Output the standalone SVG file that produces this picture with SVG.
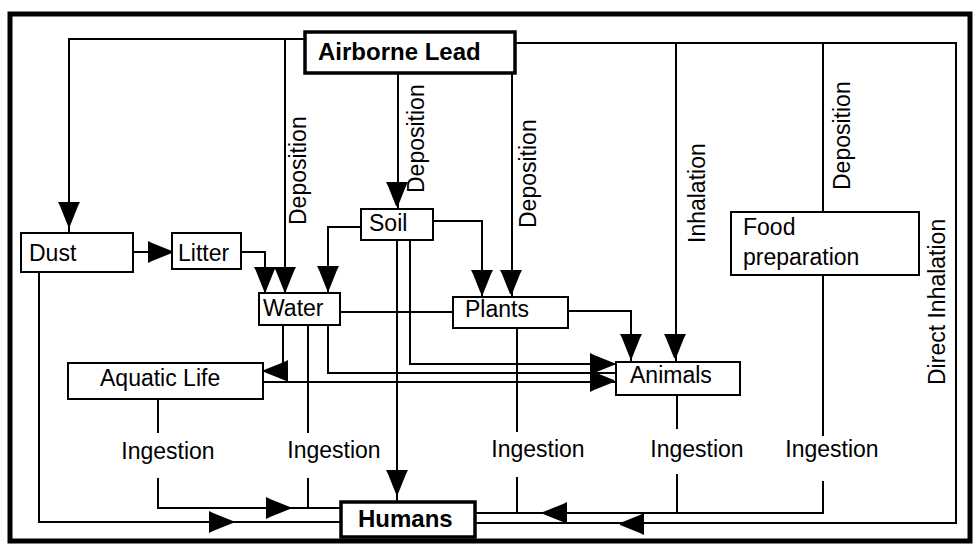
<svg xmlns="http://www.w3.org/2000/svg" width="975" height="545" viewBox="0 0 975 545">
<style>
.box{fill:#fff;stroke:#000;stroke-width:2}
.bbox{fill:#fff;stroke:#000;stroke-width:3.5}
.ln{fill:none;stroke:#000;stroke-width:2}
text{font-family:"Liberation Sans",Arial,sans-serif;font-size:23px;fill:#000}
.b{font-weight:bold;font-size:24px}
.m{text-anchor:middle}
</style>
<defs>
<path id="ah" d="M-11,-24 L11,-24 L9,-20 L1,0 L-1,0 L-9,-20 Z" fill="#000"/>
</defs>
<rect x="10" y="14" width="960" height="527" fill="none" stroke="#000" stroke-width="5"/>
<g id="connectors">
<!-- from Airborne Lead -->
<polyline class="ln" points="305,39 69,39 69,233"/>
<line class="ln" x1="285" y1="39" x2="285" y2="293"/>
<line class="ln" x1="398" y1="73" x2="398" y2="209"/>
<line class="ln" x1="512" y1="73" x2="512" y2="297"/>
<polyline class="ln" points="515,43 956,43 956,523 475,523"/>
<line class="ln" x1="676" y1="43" x2="676" y2="362"/>
<line class="ln" x1="823" y1="43" x2="823" y2="212"/>
<!-- Dust / Litter -->
<line class="ln" x1="133" y1="252" x2="172" y2="252"/>
<polyline class="ln" points="241,252 265,252 265,293"/>
<polyline class="ln" points="39,272 39,522 341,522"/>
<!-- Soil -->
<polyline class="ln" points="361,227 328,227 328,293"/>
<polyline class="ln" points="433,221 482,221 482,297"/>
<line class="ln" x1="397" y1="240" x2="397" y2="502"/>
<polyline class="ln" points="410,240 410,364 615,364"/>
<!-- Water -->
<line class="ln" x1="340" y1="312" x2="453" y2="312"/>
<polyline class="ln" points="283,325 283,371 263,371"/>
<polyline class="ln" points="328,325 328,373 615,373"/>
<line class="ln" x1="263" y1="382" x2="615" y2="382"/>
<line class="ln" x1="308" y1="325" x2="308" y2="433"/>
<!-- Plants -->
<polyline class="ln" points="568,311 631,311 631,362"/>
<line class="ln" x1="517" y1="328" x2="517" y2="432"/>
<!-- Ingestion paths -->
<line class="ln" x1="158" y1="399" x2="158" y2="433"/>
<polyline class="ln" points="158,478 158,508 341,508"/>
<line class="ln" x1="308" y1="478" x2="308" y2="508"/>
<line class="ln" x1="517" y1="477" x2="517" y2="513"/>
<line class="ln" x1="677" y1="395" x2="677" y2="429"/>
<line class="ln" x1="677" y1="474" x2="677" y2="513"/>
<line class="ln" x1="823" y1="275" x2="823" y2="436"/>
<polyline class="ln" points="823,481 823,513 475,513"/>
<!-- arrowheads -->
<use href="#ah" transform="translate(69,226)"/>
<use href="#ah" transform="translate(172,252) rotate(-90)"/>
<use href="#ah" transform="translate(265,291)"/>
<use href="#ah" transform="translate(285,291)"/>
<use href="#ah" transform="translate(328,290)"/>
<use href="#ah" transform="translate(397,206)"/>
<use href="#ah" transform="translate(482,294)"/>
<use href="#ah" transform="translate(511,294)"/>
<use href="#ah" transform="translate(631,358)"/>
<use href="#ah" transform="translate(675,358)"/>
<use href="#ah" transform="translate(264,371) rotate(90)"/>
<use href="#ah" transform="translate(614,364) rotate(-90)"/>
<use href="#ah" transform="translate(614,381) rotate(-90)"/>
<use href="#ah" transform="translate(397,494)"/>
<use href="#ah" transform="translate(290,508) rotate(-90)"/>
<use href="#ah" transform="translate(233,522) rotate(-90)"/>
<use href="#ah" transform="translate(543,513) rotate(90)"/>
<use href="#ah" transform="translate(620,524) rotate(90)"/>
<!-- labels -->
<text transform="translate(306,225) rotate(-90)">Deposition</text>
<text transform="translate(424,193) rotate(-90)">Deposition</text>
<text transform="translate(536,228) rotate(-90)">Deposition</text>
<text transform="translate(850,190) rotate(-90)">Deposition</text>
<text transform="translate(705,243) rotate(-90)">Inhalation</text>
<text transform="translate(945,385) rotate(-90)">Direct Inhalation</text>
<text class="m" x="168" y="459">Ingestion</text>
<text class="m" x="334" y="458">Ingestion</text>
<text class="m" x="538" y="457">Ingestion</text>
<text class="m" x="697" y="457">Ingestion</text>
<text class="m" x="832" y="457">Ingestion</text>
</g>
<g id="airborne-lead"><rect class="bbox" x="305" y="32" width="210" height="41"/><text class="b" x="318" y="60">Airborne Lead</text></g>
<g id="dust"><rect class="box" x="21" y="233" width="112" height="39"/><text x="29" y="261">Dust</text></g>
<g id="litter"><rect class="box" x="172" y="233" width="69" height="36"/><text x="178" y="261">Litter</text></g>
<g id="soil"><rect class="box" x="361" y="209" width="72" height="31"/><text x="369" y="231">Soil</text></g>
<g id="water"><rect class="box" x="259" y="293" width="81" height="32"/><text x="263" y="316">Water</text></g>
<g id="plants"><rect class="box" x="453" y="297" width="115" height="31"/><text x="465" y="317">Plants</text></g>
<g id="animals"><rect class="box" x="616" y="362" width="124" height="33"/><text x="630" y="383">Animals</text></g>
<g id="aquatic-life"><rect class="box" x="68" y="363" width="195" height="36"/><text x="100" y="386">Aquatic Life</text></g>
<g id="food-preparation"><rect class="box" x="731" y="212" width="188" height="63"/><text x="743" y="235">Food</text><text x="743" y="265">preparation</text></g>
<g id="humans"><rect class="bbox" x="341" y="502" width="134" height="35"/><text class="b" x="358" y="527">Humans</text></g>
</svg>
